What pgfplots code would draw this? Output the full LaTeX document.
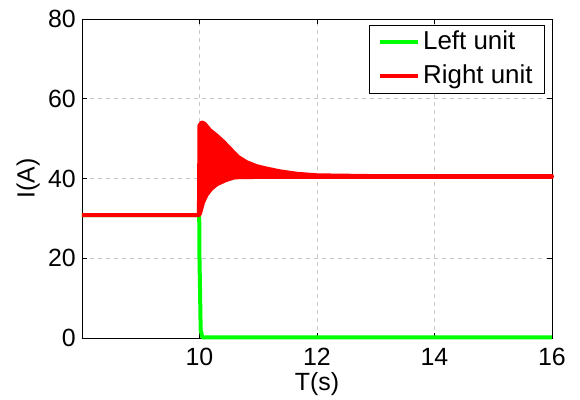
\documentclass[border=0pt]{standalone}
\usepackage{fontspec}
\setmainfont{Liberation Sans}
\usepackage{pgfplots}
\pgfplotsset{compat=1.18}

\definecolor{lgreen}{RGB}{0,255,0}
\definecolor{lred}{RGB}{255,0,0}

\begin{document}
\begin{tikzpicture}
\path[use as bounding box] (-82bp,-62bp) rectangle (498bp,338bp);
\begin{axis}[
    at={(0,0)}, anchor=south west,
    width=470bp, height=319bp, scale only axis,
    xmin=8, xmax=16, ymin=0, ymax=80,
    xtick={10,12,14,16}, ytick={0,20,40,60,80},
    grid=major,
    major grid style={black!22, dash pattern=on 4bp off 4bp, line width=0.6bp},
    tick align=inside, major tick length=5bp,
    axis line style={line width=0.8bp},
    every tick/.style={black, line width=0.8bp},
    tick label style={font=\fontsize{25}{30}\selectfont, inner sep=0pt},
    /pgf/number format/assume math mode=true,
    xticklabel style={yshift=-10bp},
    yticklabel style={xshift=-6bp},
    xlabel={T(s)}, ylabel={I(A)},
    label style={font=\fontsize{25}{30}\selectfont, inner sep=0pt},
    xlabel style={at={(axis description cs:0.5,-0.1066)}, anchor=north},
    ylabel style={at={(axis description cs:-0.0894,0.5)}, anchor=south},
    clip=false,
    legend style={at={(axis description cs:1,1)}, anchor=north east,
        xshift=-7bp, yshift=-6bp,
        font=\fontsize{26}{31}\selectfont, draw=black, line width=0.8bp,
        inner xsep=9bp, inner ysep=3bp, row sep=6bp,
        nodes={inner xsep=3bp, inner ysep=1bp, text height=20bp, text depth=6bp}},
    legend cell align=left,
    legend image code/.code={\draw[#1, line width=4bp] (0bp,0bp) -- (38bp,0bp);},
]

% Left unit current
\addplot[lgreen, line width=4bp, line join=round] coordinates {
    (8,30.8) (9.995,30.8) (10.0,20) (10.02,2) (10.05,0.15) (10.3,0.15) (16,0.15)
};
\addlegendentry{Left unit}

% Right unit current: oscillation envelope after the switch at t=10 s
\addplot[lred, line width=4bp, line join=round, fill=lred] coordinates {
    (8,30.8) (9.99,30.8)
    (10.0,53.3) (10.04,54.1) (10.09,53.7) (10.18,52.1) (10.29,50.8)
    (10.41,49.2) (10.52,47.5) (10.66,45.4) (10.8,44.1) (10.97,43.1)
    (11.14,42.5) (11.37,41.8) (11.65,41.2) (12,40.8) (13,40.6) (16,40.6)
    (16,40.4) (11,40.4) (10.6,40.3) (10.45,39.6) (10.3,38.6)
    (10.2,37.4) (10.12,35.9) (10.06,34.0) (10.01,31.3) (9.99,30.8) (8,30.8)
};
\addlegendentry{Right unit}

\end{axis}
\end{tikzpicture}
\end{document}
